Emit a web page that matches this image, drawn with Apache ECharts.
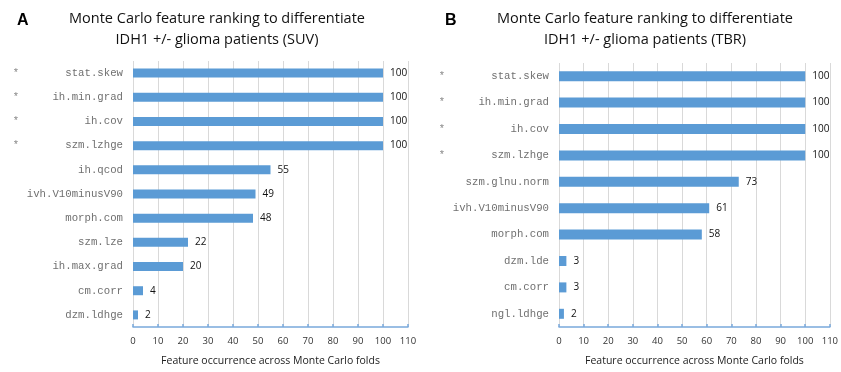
<!DOCTYPE html>
<html>
<head>
<meta charset="utf-8">
<script src="https://cdn.jsdelivr.net/npm/echarts@6/dist/echarts.min.js"></script>
<style>
  html, body { margin: 0; padding: 0; background: #fff; }
  #chart { width: 841px; height: 372px; }
</style>
</head>
<body>
<div id="chart"></div>
<script>
// Panel A: SUV features
const suvFeatures = ['stat.skew', 'ih.min.grad', 'ih.cov', 'szm.lzhge', 'ih.qcod', 'ivh.V10minusV90',
  'morph.com', 'szm.lze', 'ih.max.grad', 'cm.corr', 'dzm.ldhge'];
const suvCounts = [100, 100, 100, 100, 55, 49, 48, 22, 20, 4, 2];
const suvStarred = [true, true, true, true, false, false, false, false, false, false, false];

// Panel B: TBR features
const tbrFeatures = ['stat.skew', 'ih.min.grad', 'ih.cov', 'szm.lzhge', 'szm.glnu.norm', 'ivh.V10minusV90',
  'morph.com', 'dzm.lde', 'cm.corr', 'ngl.ldhge'];
const tbrCounts = [100, 100, 100, 100, 73, 61, 58, 3, 3, 2];
const tbrStarred = [true, true, true, true, false, false, false, false, false, false];

const xTicks = [0, 10, 20, 30, 40, 50, 60, 70, 80, 90, 100, 110];
const xAxisTitle = 'Feature occurrence across Monte Carlo folds';
const panelTitles = [
  'Monte Carlo feature ranking to differentiate\nIDH1 +/- glioma patients (SUV)',
  'Monte Carlo feature ranking to differentiate\nIDH1 +/- glioma patients (TBR)'
];

const BAR = '#5b9bd5';
const textFont = '"Open Sans", "Liberation Sans", sans-serif';
const monoFont = '"Liberation Mono", "DejaVu Sans Mono", monospace';

function yAxisFor(gridIndex, names, starred) {
  return {
    type: 'category',
    gridIndex: gridIndex,
    data: names,
    inverse: true,
    axisLine: { show: false },
    axisTick: { show: false },
    axisLabel: {
      margin: 10,
      formatter: function (v, i) {
        return '{s|' + (starred[i] ? '*' : '') + '}{n|' + v + '}';
      },
      rich: {
        s: { width: 8, align: 'center', fontFamily: monoFont, fontSize: 10.5, color: '#888' },
        n: { width: 103, align: 'right', fontFamily: monoFont, fontSize: 10.7, color: '#707070' }
      }
    }
  };
}

function xAxisFor(gridIndex) {
  return {
    type: 'value',
    gridIndex: gridIndex,
    min: xTicks[0],
    max: xTicks[xTicks.length - 1],
    interval: xTicks[1] - xTicks[0],
    name: xAxisTitle,
    nameLocation: 'middle',
    nameGap: 29,
    nameTextStyle: { fontFamily: textFont, fontSize: 10.5, color: '#222' },
    axisLine: { show: true, lineStyle: { color: '#7aa9dc', width: 1.5 } },
    axisTick: { show: true, inside: true, length: 3, lineStyle: { color: '#7aa9dc', width: 1.5 } },
    axisLabel: { margin: 9, fontFamily: textFont, fontSize: 9.5, color: '#333' },
    splitLine: { show: true, lineStyle: { color: '#d9d9d9', width: 1 } }
  };
}

function barSeries(idx, values, width) {
  return {
    type: 'bar',
    xAxisIndex: idx,
    yAxisIndex: idx,
    data: values,
    barWidth: width,
    itemStyle: { color: BAR },
    label: {
      show: true,
      position: 'right',
      distance: 7,
      fontFamily: textFont,
      fontSize: 10,
      color: '#111'
    },
    silent: true
  };
}

const chart = echarts.init(document.getElementById('chart'), null, { renderer: 'canvas' });
chart.setOption({
  animation: false,
  backgroundColor: '#fff',
  title: [
    { text: 'A', left: 12, top: 8, textStyle: { fontFamily: '"Liberation Sans", Arial, sans-serif', fontWeight: 'bold', fontSize: 16, color: '#000' } },
    { text: 'B', left: 440, top: 8, textStyle: { fontFamily: '"Liberation Sans", Arial, sans-serif', fontWeight: 'bold', fontSize: 16, color: '#000' } },
    { text: panelTitles[0], left: 212, top: 3, textAlign: 'center',
      textStyle: { fontFamily: textFont, fontWeight: 'normal', fontSize: 14.5, lineHeight: 21, color: '#111' } },
    { text: panelTitles[1], left: 640, top: 3, textAlign: 'center',
      textStyle: { fontFamily: textFont, fontWeight: 'normal', fontSize: 14.5, lineHeight: 21, color: '#111' } }
  ],
  grid: [
    { left: 133, top: 61, width: 275, height: 268 },
    { left: 559, top: 63, width: 273, height: 266 }
  ],
  xAxis: [xAxisFor(0), xAxisFor(1)],
  yAxis: [yAxisFor(0, suvFeatures, suvStarred), yAxisFor(1, tbrFeatures, tbrStarred)],
  series: [barSeries(0, suvCounts, 9), barSeries(1, tbrCounts, 10)]
});
</script>
</body>
</html>
